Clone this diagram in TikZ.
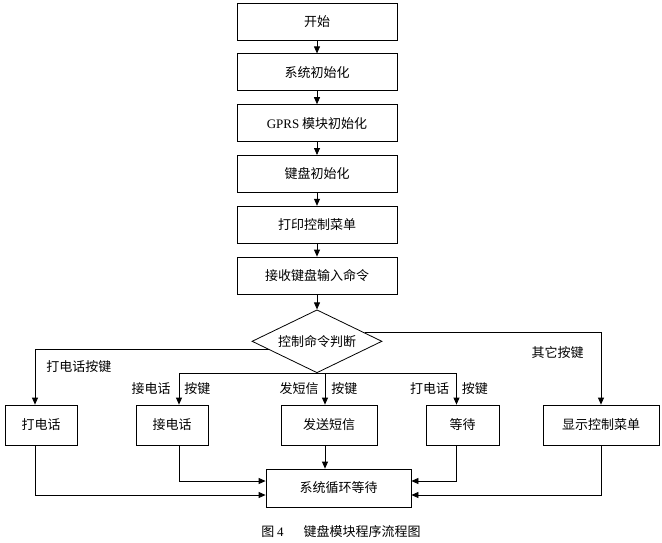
\documentclass[tikz,border=0pt]{standalone}
\usepackage{fontspec}
\setmainfont{Liberation Serif}
\newfontfamily\cjk{Noto Sans CJK SC}
\newcommand{\flowfont}{\cjk\fontsize{13pt}{15pt}\selectfont}
\usetikzlibrary{arrows.meta}
\usetikzlibrary{positioning,shapes,calc}
\tikzstyle{proc_box} = [rectangle,draw=black,line width=0.8pt,font=\flowfont,inner sep=0pt,minimum width=160pt,minimum height=37pt]
\tikzstyle{small_box} = [proc_box,minimum height=40pt]
\tikzstyle{judge} = [diamond,draw=black,line width=0.8pt,font=\flowfont,inner sep=0pt,aspect=2,minimum width=130pt,minimum height=63pt]
\tikzstyle{flow_arrow} = [->, draw=black, line width=0.8pt]
\tikzstyle{key_label} = [font=\flowfont,inner sep=2pt]

\begin{document}
\begin{tikzpicture}[x=1pt,y=-1pt,>={Triangle[length=7pt,width=6pt]},node distance=13pt]
    \useasboundingbox (0,0) rectangle (662,542);

      \node[proc_box] (start) at (317,21.5)  {开始};
      \node[proc_box] (init)  [below=of start] {系统初始化};
      \node[proc_box] (gprs)  [below=of init] {{\rmfamily GPRS} 模块初始化};
      \node[proc_box] (keyinit) [below=of gprs] {键盘初始化};
      \node[proc_box] (menuprint) [below=of keyinit] {打印控制菜单};
      \node[proc_box] (recv) [below=of menuprint] {接收键盘输入命令};
      \node[judge] (cmd) [below=15pt of recv] {控制命令判断};

      \node[small_box,minimum width=72pt]  (call)     at (41,425)    {打电话};
      \node[small_box,minimum width=72pt]  (answer)   at (172,425)   {接电话};
      \node[small_box,minimum width=96pt]  (sms)      at (329,425)   {发送短信};
      \node[small_box,minimum width=73pt]  (wait)     at (462.5,425) {等待};
      \node[small_box,minimum width=116pt] (menushow) at (601,425)   {显示控制菜单};
      \node[proc_box,minimum width=145pt,minimum height=38pt] (loop) at (338.5,488) {系统循环等待};

      \node[font=\flowfont] (caption) at (341,532) {图 {\rmfamily 4}\hspace{20pt}键盘模块程序流程图};

      \path[flow_arrow]
        \foreach \a/\b in {start/init,init/gprs,gprs/keyinit,keyinit/menuprint,menuprint/recv,recv/cmd} {
          (\a) edge (\b)
        } ;

      % branches of the decision
      \draw[flow_arrow] (cmd.190) -| node[key_label,pos=0.65,right=9pt] {打电话按键} ([xshift=-6pt]call.north);
      \draw[flow_arrow] (cmd.10) -| node[key_label,pos=0.64,left=15pt] {其它按键} (menushow.north);
      \draw[flow_arrow] (cmd.south) -| node[key_label,pos=0.75,left=6pt] {接电话} node[key_label,pos=0.75,right=3pt] {按键} ([xshift=7pt]answer.north);
      \draw[flow_arrow] (cmd.south) -| node[key_label,pos=0.75,left=4pt] {发短信} node[key_label,pos=0.75,right=4pt] {按键} ([xshift=-4pt]sms.north);
      \draw[flow_arrow] (cmd.south) -| node[key_label,pos=0.75,left=5pt] {打电话} node[key_label,pos=0.75,right=3pt] {按键} ([xshift=-6pt]wait.north);

      % back to the loop
      \draw[flow_arrow] ([xshift=-6pt]call.south) |- ([yshift=-7pt]loop.west);
      \draw[flow_arrow] ([xshift=7pt]answer.south) |- ([yshift=7pt]loop.west);
      \draw[flow_arrow] ([xshift=-4pt]sms.south) -- ([xshift=-4pt]sms.south |- loop.north);
      \draw[flow_arrow] ([xshift=-6pt]wait.south) |- ([yshift=7pt]loop.east);
      \draw[flow_arrow] (menushow.south) |- ([yshift=-7pt]loop.east);
    \end{tikzpicture}
\end{document}
